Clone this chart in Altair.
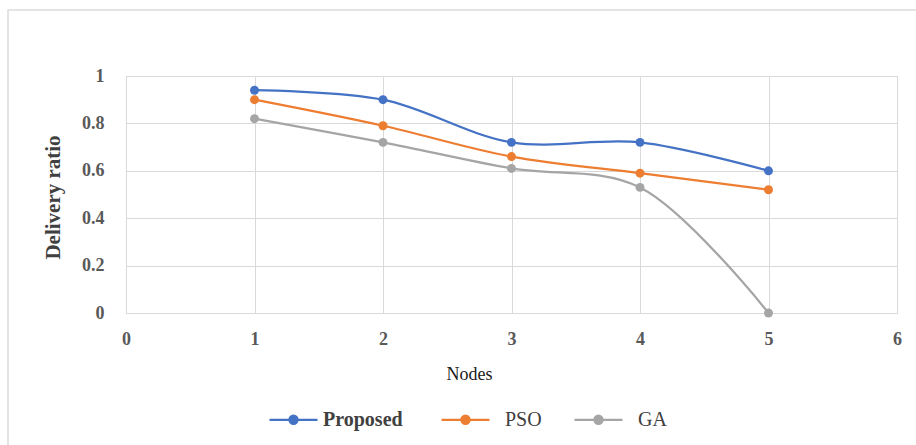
import altair as alt
import pandas as pd

# Delivery ratio per node count for the three schemes
nodes = [1, 2, 3, 4, 5]
series_names = ["Proposed", "PSO", "GA"]
proposed = [0.94, 0.90, 0.72, 0.72, 0.60]
pso = [0.90, 0.79, 0.66, 0.59, 0.52]
ga = [0.82, 0.72, 0.61, 0.53, 0.0]
series_colors = ["#4472C4", "#ED7D31", "#A5A5A5"]
x_ticks = [0, 1, 2, 3, 4, 5, 6]
y_ticks = [0, 0.2, 0.4, 0.6, 0.8, 1.0]

rows = []
for name, values in zip(series_names, [proposed, pso, ga]):
    for n, v in zip(nodes, values):
        rows.append({"Nodes": n, "Delivery ratio": v, "Series": name})
df = pd.DataFrame(rows)

SERIF = "Liberation Serif"
GRID = "#D9D9D9"
NB = "\u00a0"
EN = "\u2002"
THIN = "\u2009"
ZW = "\u200b"  # keeps the padding spaces from being trimmed

# line-with-dot legend glyph (unit coordinates, scaled by the symbol size)
legend_glyph = (
    "M-1,0L1,0"
    "M-0.17,0A0.17,0.17,0,1,1,0.17,0A0.17,0.17,0.0,1,1,-0.17,0Z"
    "M-0.1,0A0.1,0.1,0,1,1,0.1,0A0.1,0.1,0,1,1,-0.1,0Z"
    "M-0.04,0A0.04,0.04,0,1,1,0.04,0A0.04,0.04,0,1,1,-0.04,0Z"
)

legend = alt.Legend(
    title=None,
    orient="none",
    legendX=142,
    legendY=318,
    direction="horizontal",
    symbolType=legend_glyph,
    symbolSize=2304,
    symbolStrokeWidth=2.25,
    labelFont=SERIF,
    labelFontSize=20,
    labelColor="#404040",
    labelOffset=4,
    columnPadding=24,
    labelFontWeight=alt.ExprRef("datum.label == 'Proposed' ? 'bold' : 'normal'"),
    labelExpr=(
        f"datum.label == 'Proposed' ? 'Proposed{NB * 2}{ZW}' : "
        f"datum.label == 'PSO' ? '{ZW}{EN}PSO{THIN}{ZW}' : '{ZW}{EN}GA'"
    ),
)

x_enc = alt.X(
    "Nodes:Q",
    scale=alt.Scale(domain=[0, 6], nice=False),
    axis=alt.Axis(
        values=x_ticks,
        labelFlush=False,
        title="Nodes",
        titleX=343,
        titleY=66,
        titleBaseline="alphabetic",
        titleFont=SERIF,
        titleFontSize=18,
        titleFontWeight="normal",
        titleColor="#1a1a1a",
        labelPadding=17,
    ),
)
y_enc = alt.Y(
    "Delivery ratio:Q",
    scale=alt.Scale(domain=[0, 1], nice=False),
    axis=alt.Axis(
        values=y_ticks,
        format=".1~f",
        labelFlush=False,
        title="Delivery ratio",
        titleX=-63,
        titleY=121,
        titleAngle=-90,
        titleAlign="center",
        titleBaseline="bottom",
        titleFont=SERIF,
        titleFontSize=21,
        titleFontWeight="bold",
        titleColor="#404040",
        labelPadding=22,
    ),
)
color_enc = alt.Color(
    "Series:N",
    scale=alt.Scale(domain=series_names, range=series_colors),
    legend=legend,
)

# outer chart frame
frame = alt.Chart(pd.DataFrame({"frame": [0]})).mark_rect(
    filled=False, stroke="#DCDCDC", strokeWidth=1.5
).encode(
    x=alt.value(-118), x2=alt.value(820), y=alt.value(-66), y2=alt.value(400)
)

base = alt.Chart(df).encode(x=x_enc, y=y_enc, color=color_enc)
lines = base.mark_line(interpolate="catmull-rom", strokeWidth=2.25)
dots = base.mark_circle(size=80, opacity=1)

chart = alt.layer(frame, lines, dots).properties(
    width=771,
    height=237,
    autosize=alt.AutoSizeParams(type="none"),
    padding={"left": 126, "top": 76, "right": 19, "bottom": 132},
    background="white",
).configure_view(
    stroke=GRID, strokeWidth=1
).configure_axis(
    grid=True,
    gridColor=GRID,
    gridWidth=1,
    domainColor=GRID,
    domainWidth=1,
    ticks=False,
    tickSize=0,
    labelFont=SERIF,
    labelFontSize=18,
    labelFontWeight="bold",
    labelColor="#595959",
)

chart.save("out.html", embed_options={"renderer": "svg", "actions": False})
